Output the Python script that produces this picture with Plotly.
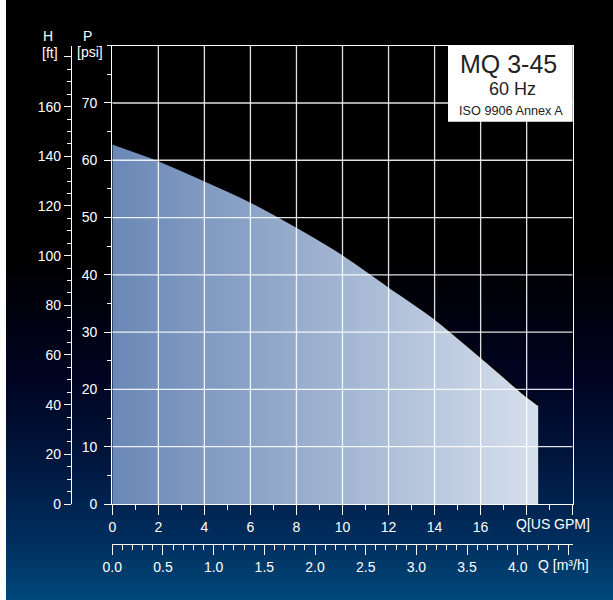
import plotly.graph_objects as go

W, H = 613, 600

# ---- data ----
flow_gpm = [0, 2, 4, 6, 8, 10, 12, 14, 16, 18, 18.5]
pressure_psi = [62.9, 60.0, 56.5, 52.8, 48.4, 43.6, 38.0, 32.4, 25.7, 18.8, 17.3]

gpm_ticks = [0, 2, 4, 6, 8, 10, 12, 14, 16, 18, 20]
gpm_labels = ["0", "2", "4", "6", "8", "10", "12", "14", "16", "", ""]
psi_ticks = [0, 10, 20, 30, 40, 50, 60, 70]
psi_labels = ["0", "10", "20", "30", "40", "50", "60", "70"]
ft_ticks = [0, 20, 40, 60, 80, 100, 120, 140, 160, 180]
ft_labels = ["0", "20", "40", "60", "80", "100", "120", "140", "160", ""]
m3h_ticks = [0, 0.5, 1.0, 1.5, 2.0, 2.5, 3.0, 3.5, 4.0, 4.5]
m3h_labels = ["0.0", "0.5", "1.0", "1.5", "2.0", "2.5", "3.0", "3.5", "4.0", ""]

GPM_MAX = 20
PSI_MAX = 80
PSI_TO_FT = 2.30666
GPM_TO_M3H = 0.2271247

FONT = "Liberation Sans, Arial, sans-serif"


def px(x):
    return x / W


def py(y):
    return 1 - y / H


# plot area in pixels
L, R, T, B = 112.3, 572.7, 45.7, 504.0

fig = go.Figure()

# filled pump curve
fig.add_trace(go.Scatter(
    x=flow_gpm, y=pressure_psi, mode="lines",
    line=dict(color="black", width=2, shape="spline", smoothing=0.6),
    fill="tozeroy",
    fillgradient=dict(type="horizontal",
                      colorscale=[[0, "rgb(106,136,182)"], [0.5, "rgb(158,178,208)"],
                                  [1, "rgb(214,223,236)"]]),
    hoverinfo="skip", showlegend=False))

# grid lines drawn above the fill
gx, gy = [], []
for v in gpm_ticks[1:-1]:
    gx += [v, v, None]
    gy += [0, PSI_MAX, None]
for v in psi_ticks[1:]:
    gx += [0, GPM_MAX, None]
    gy += [v, v, None]
fig.add_trace(go.Scatter(x=gx, y=gy, mode="lines",
                         line=dict(color="rgba(255,255,255,0.88)", width=1.3),
                         hoverinfo="skip", showlegend=False))

# invisible traces to bind secondary axes
fig.add_trace(go.Scatter(x=flow_gpm, y=[p * PSI_TO_FT for p in pressure_psi],
                         yaxis="y2", mode="lines", opacity=0, hoverinfo="skip",
                         showlegend=False))
fig.add_trace(go.Scatter(x=[q * GPM_TO_M3H for q in flow_gpm], y=pressure_psi,
                         xaxis="x2", mode="lines", opacity=0, hoverinfo="skip",
                         showlegend=False))

# background gradient (overlapping bands)
stops = [(0, (0, 0, 0)), (260, (0, 0, 0)), (380, (0, 4, 34)), (460, (0, 22, 62)),
         (540, (0, 46, 94)), (600, (0, 72, 122))]


def col_at(y):
    for (y0, c0), (y1, c1) in zip(stops[:-1], stops[1:]):
        if y0 <= y <= y1:
            t = (y - y0) / (y1 - y0) if y1 > y0 else 0
            return "rgb(%d,%d,%d)" % tuple(round(a + (b - a) * t) for a, b in zip(c0, c1))
    return "rgb(0,72,122)"


shapes = []
step = 4
y = 0
while y < H:
    shapes.append(dict(type="rect", xref="paper", yref="paper",
                       x0=px(6), x1=1, y0=py(min(y + step + 1.5, H)), y1=py(y),
                       fillcolor=col_at(y + step / 2), line=dict(width=0),
                       layer="below"))
    y += step

# title box
shapes.append(dict(type="rect", xref="paper", yref="paper",
                   x0=px(448), x1=px(R), y0=py(121.7), y1=py(T),
                   fillcolor="white", line=dict(width=0), layer="above"))

axis_common = dict(showgrid=False, zeroline=False, showline=True, linecolor="white",
                   linewidth=1.3, ticks="outside", tickcolor="white", tickwidth=1.3,
                   automargin=False,
                   tickfont=dict(color="white", size=14, family=FONT))

fig.update_layout(
    width=W, height=H,
    margin=dict(l=0, r=0, t=0, b=0, pad=0, autoexpand=False),
    paper_bgcolor="white", plot_bgcolor="rgba(0,0,0,0)",
    showlegend=False,
    xaxis=dict(domain=[px(L), px(R)], range=[0, GPM_MAX], tickmode="array",
               tickvals=gpm_ticks, ticktext=gpm_labels, ticklen=10, mirror=True,
               minor=dict(dtick=1, ticklen=5, ticks="outside", tickcolor="white",
                          tickwidth=1.3),
               anchor="y", **axis_common),
    yaxis=dict(domain=[py(B), py(T)], range=[0, PSI_MAX], tickmode="array",
               tickvals=psi_ticks, ticktext=psi_labels, ticklen=7, mirror=True,
               ticklabelstandoff=4,
               minor=dict(dtick=5, ticklen=4, ticks="outside", tickcolor="white",
                          tickwidth=1.3),
               anchor="x", **axis_common),
    yaxis2=dict(overlaying="y", anchor="free", position=px(71), side="left",
                range=[0, PSI_MAX * PSI_TO_FT], tickmode="array",
                tickvals=ft_ticks, ticktext=ft_labels, ticklen=7,
                minor=dict(dtick=5, ticklen=3.5, ticks="outside", tickcolor="white",
                           tickwidth=1.3),
                **axis_common),
    xaxis2=dict(overlaying="x", anchor="free", position=py(544.3), side="bottom",
                range=[0, GPM_MAX * GPM_TO_M3H], tickmode="array",
                tickvals=m3h_ticks, ticktext=m3h_labels, ticklen=10,
                minor=dict(dtick=0.1, ticklen=5, ticks="outside", tickcolor="white",
                           tickwidth=1.3),
                **axis_common),
    shapes=shapes,
)

ann_font = dict(color="white", size=14, family=FONT)
dark = "#222222"
annotations = [
    dict(text="H", x=px(48), y=py(36)),
    dict(text="[ft]", x=px(50), y=py(53)),
    dict(text="P", x=px(87), y=py(36)),
    dict(text="[psi]", x=px(90), y=py(52)),
    dict(text="Q[US GPM]", x=px(553), y=py(524)),
    dict(text="Q [m³/h]", x=px(563), y=py(565)),
]
for a in annotations:
    fig.add_annotation(xref="paper", yref="paper", showarrow=False,
                       xanchor="center", yanchor="middle", font=ann_font, **a)

fig.add_annotation(text="MQ 3-45", xref="paper", yref="paper", x=px(508), y=py(64),
                   showarrow=False, xanchor="center", yanchor="middle",
                   font=dict(color=dark, size=25, family=FONT))
fig.add_annotation(text="60 Hz", xref="paper", yref="paper", x=px(512), y=py(89),
                   showarrow=False, xanchor="center", yanchor="middle",
                   font=dict(color=dark, size=18, family=FONT))
fig.add_annotation(text="ISO 9906 Annex A", xref="paper", yref="paper", x=px(511),
                   y=py(110.5), showarrow=False, xanchor="center", yanchor="middle",
                   font=dict(color=dark, size=12.7, family=FONT))

fig.write_html("out.html", config={"displayModeBar": False},
               post_script="document.body.style.margin='0';"
                           "document.body.style.overflow='hidden';")
